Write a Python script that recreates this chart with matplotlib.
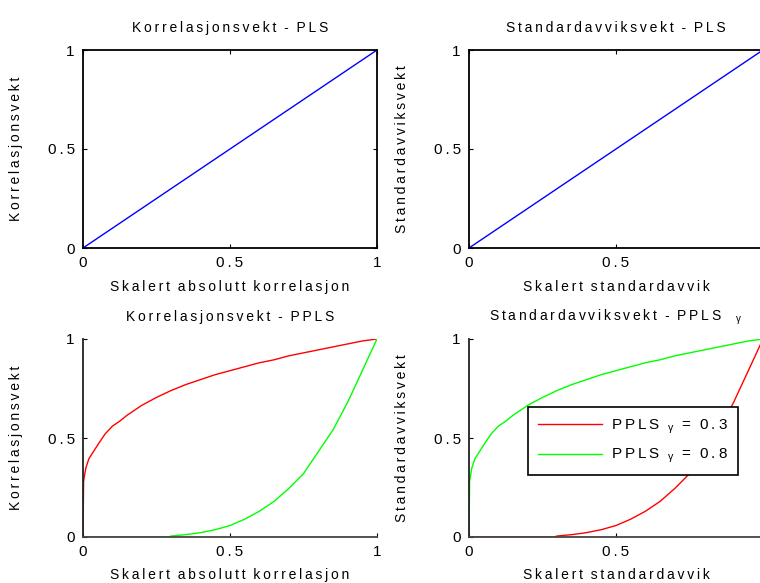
import matplotlib
matplotlib.use("Agg")
import matplotlib.pyplot as plt

# linear PLS weights (top row)
pls_x = [0.0, 0.1, 0.2, 0.3, 0.4, 0.5, 0.6, 0.7, 0.8, 0.9, 1.0]
pls_y = [0.0, 0.1, 0.2, 0.3, 0.4, 0.5, 0.6, 0.7, 0.8, 0.9, 1.0]

# concave PPLS curve
conc_x = [0.0, 0.002, 0.005, 0.01, 0.02, 0.035, 0.05, 0.075, 0.1, 0.125, 0.15,
          0.175, 0.2, 0.25, 0.3, 0.35, 0.4, 0.45, 0.5, 0.55, 0.6, 0.65, 0.7,
          0.75, 0.8, 0.85, 0.9, 0.95, 1.0]
conc_y = [0.0, 0.28, 0.31, 0.35, 0.395, 0.43, 0.465, 0.52, 0.56, 0.585, 0.615,
          0.64, 0.665, 0.705, 0.74, 0.77, 0.795, 0.82, 0.84, 0.86, 0.88, 0.895,
          0.915, 0.93, 0.945, 0.96, 0.975, 0.99, 1.0]

# convex PPLS curve
conv_x = [0.0, 0.1, 0.2, 0.29, 0.3, 0.35, 0.4, 0.45, 0.5, 0.55, 0.6, 0.65,
          0.7, 0.75, 0.8, 0.85, 0.9, 0.95, 1.0]
conv_y = [0.0, 0.0, 0.0, 0.0, 0.005, 0.012, 0.022, 0.037, 0.058, 0.09, 0.13,
          0.18, 0.245, 0.32, 0.43, 0.54, 0.68, 0.84, 1.0]

FONT = ["Liberation Sans", "DejaVu Sans"]
plt.rcParams["font.family"] = FONT
plt.rcParams["mathtext.fontset"] = "custom"
plt.rcParams["mathtext.it"] = "Liberation Sans"
plt.rcParams["mathtext.rm"] = "Liberation Sans"

TS = "\u2009"  # thin space for the MATLAB-ish letter spacing
FS = 10


def sp(s):
    return "  ".join(TS.join(w) for w in s.split(" "))


W, H = 760, 583
fig = plt.figure(figsize=(W / 100, H / 100), dpi=100)


def make_ax(x0, y_top, y_bot, box, right_col):
    ax = fig.add_axes([x0 / W, 1 - y_bot / H, 294 / W, (y_bot - y_top) / H])
    ax.set_xlim(0, 1)
    ax.set_ylim(0, 1)
    ax.set_xticks([0, 0.5, 1])
    ax.set_yticks([0, 0.5, 1])
    ax.set_xticklabels(["0", sp("0.5"), "" if right_col else "1"])
    ax.set_yticklabels(["0", sp("0.5"), "1"])
    ax.tick_params(direction="in", length=3, width=0.8, labelsize=FS + 1,
                   top=box, right=box and not right_col, pad=6)
    for s in ax.spines.values():
        s.set_linewidth(1.3)
        s.set_color("black")
    if not box:
        ax.spines["top"].set_visible(False)
        ax.spines["right"].set_visible(False)
        ax.spines["left"].set_color("#222222")
        ax.spines["bottom"].set_color("#444444")
    return ax


ax1 = make_ax(83, 50, 248, True, False)
ax1.plot(pls_x, pls_y, color="#0000ff", lw=1)
ax1.set_title(sp("Korrelasjonsvekt - PLS"), fontsize=FS, pad=13)
ax1.set_xlabel(sp("Skalert absolutt korrelasjon"), fontsize=FS, labelpad=7)
ax1.set_ylabel(sp("Korrelasjonsvekt"), fontsize=FS, labelpad=18)

ax2 = make_ax(469, 50, 248, True, True)
ax2.plot(pls_x, pls_y, color="#0000ff", lw=1)
ax2.set_title(sp("Standardavviksvekt - PLS"), fontsize=FS, pad=13)
ax2.set_xlabel(sp("Skalert standardavvik"), fontsize=FS, labelpad=7)
ax2.set_ylabel(sp("Standardavviksvekt"), fontsize=FS, labelpad=18)

ax3 = make_ax(83, 339, 537, False, False)
ax3.plot(conc_x, conc_y, color="#ff0000", lw=1)
ax3.plot(conv_x, conv_y, color="#00ff00", lw=1)
ax3.set_title(sp("Korrelasjonsvekt - PPLS"), fontsize=FS, pad=13)
ax3.set_xlabel(sp("Skalert absolutt korrelasjon"), fontsize=FS, labelpad=6)
ax3.set_ylabel(sp("Korrelasjonsvekt"), fontsize=FS, labelpad=18)

ax4 = make_ax(469, 339, 537, False, True)
lab3 = sp("PPLS") + r"  $_{\gamma}$  =  " + sp("0.3")
lab8 = sp("PPLS") + r"  $_{\gamma}$  =  " + sp("0.8")
ax4.plot(conv_x, conv_y, color="#ff0000", lw=1, label=lab3)
ax4.plot(conc_x, conc_y, color="#00ff00", lw=1, label=lab8)
ax4.set_title(sp("Standardavviksvekt - PPLS") + r"    $_{\gamma}$", fontsize=FS, pad=13)
ax4.set_xlabel(sp("Skalert standardavvik"), fontsize=FS, labelpad=6)
ax4.set_ylabel(sp("Standardavviksvekt"), fontsize=FS, labelpad=18)
leg = ax4.legend(loc="upper left", bbox_to_anchor=(59 / 294, 0.655), fontsize=FS + 1,
                 fancybox=False, framealpha=1, edgecolor="black",
                 handlelength=4.2, handletextpad=0.6, borderpad=0.65,
                 labelspacing=0.75, borderaxespad=0)
leg.get_frame().set_linewidth(1.2)

fig.savefig("out.png", dpi=100)
